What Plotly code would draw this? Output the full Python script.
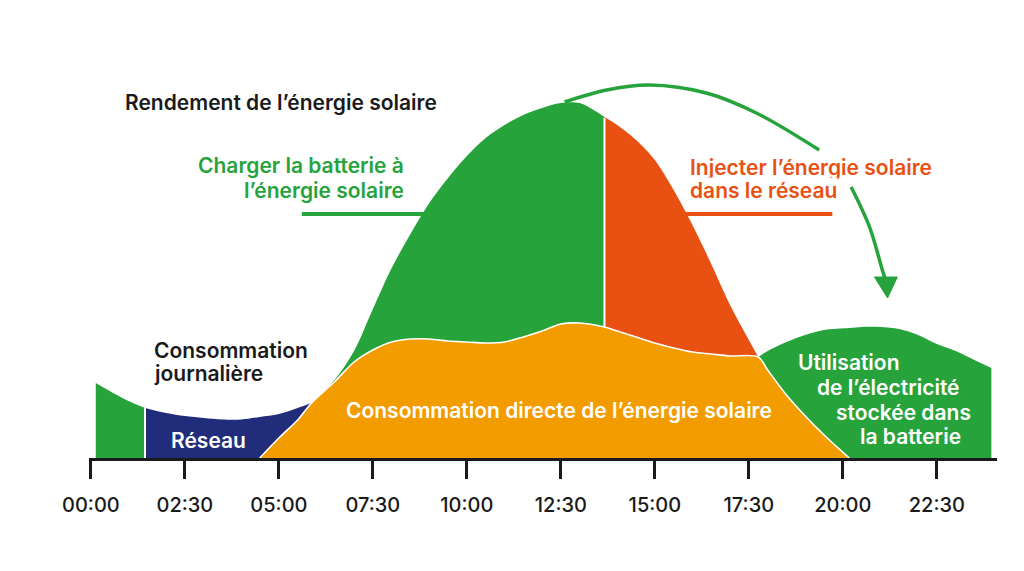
import numpy as np
import plotly.graph_objects as go

# ---------------- data (hours of the day, power in arbitrary units) ----------------
heures = [0.13, 0.5, 1.0, 1.44, 2.0, 2.5, 3.0, 3.5, 4.0, 4.49, 5.0, 5.5, 5.87, 6.5,
          7.0, 7.5, 8.0, 8.5, 9.0, 9.5, 10.0, 10.5, 11.0, 11.5, 12.0, 12.5, 13.0,
          13.66, 14.0, 14.5, 15.0, 15.5, 16.0, 16.5, 17.0, 17.75, 18.0, 18.5, 19.0,
          19.5, 20.17, 20.5, 21.0, 21.5, 22.0, 22.5, 23.0, 23.5, 23.95]
consommation = [75, 67, 57, 50, 45, 42, 40, 38.5, 38.5, 41, 44, 50, 55, 77,
                96, 108, 116, 119, 119, 117, 116, 115, 116, 121, 127, 134, 135,
                131, 127, 121, 115, 110, 106, 104, 102, 101, 107, 116, 123,
                128, 130, 131, 131, 129, 123, 114, 107, 98, 90]
production = [0, 0, 0, 0, 0, 0, 0, 0, 0, 0, 20, 38, 55, 79,
              107, 149, 190, 224, 255, 280, 302, 320, 333, 343, 350, 355, 355,
              341, 333, 318, 298, 268, 233, 194, 153, 101, 88, 63, 42,
              23, 0, 0, 0, 0, 0, 0, 0, 0, 0]

tick_vals = [0, 2.5, 5, 7.5, 10, 12.5, 15, 17.5, 20, 22.5]
tick_text = ["00:00", "02:30", "05:00", "07:30", "10:00", "12:30", "15:00",
             "17:30", "20:00", "22:30"]

# time markers of the phases
t_debut, t_reseau, t_prod, t_croise1, t_injection, t_croise2, t_fin_prod, t_fin = \
    0.13, 1.44, 4.49, 5.87, 13.66, 17.75, 20.17, 23.95

# curved arrow (battery energy shifted to the evening); gap where it passes behind the label
fleche_x = [12.60, 13.72, 14.86, 16.37, 17.70, 19.37, None, 20.22, 20.71, 21.05, 21.15]
fleche_y = [356, 368, 373, 365, 345, 308, None, 271, 231, 188, 176]
pointe_x = [20.84, 21.45, 21.19, 20.84]
pointe_y = [181, 181, 160, 181]

# ---------------- colours ----------------
VERT = "#27a33c"
BLEU = "#212c7b"
ORANGE = "#f39c00"
ROUGE = "#e85112"
NOIR = "#1a1a1a"
FONT = "Inter"
FS = 21

h = np.array(heures)
C = np.array(consommation, dtype=float)
P = np.array(production, dtype=float)
directe = np.minimum(C, P)


def idx(t):
    return int(np.argmin(np.abs(h - t)))


def seg(t0, t1):
    return slice(idx(t0), idx(t1) + 1)


fig = go.Figure()


def area(sl, y, color, line_color=None, lw=0):
    fig.add_trace(go.Scatter(
        x=h[sl], y=y[sl], mode="lines", fill="tozeroy", fillcolor=color,
        line=dict(color=line_color or color, width=lw, shape="spline", smoothing=0.9),
        hoverinfo="skip", showlegend=False))


# battery use at night
area(seg(t_debut, t_reseau), C, VERT)
# grid
area(seg(t_reseau, t_croise1), C, BLEU)
# battery use in the evening
area(seg(t_croise2, t_fin), C, VERT)
# charging the battery
area(seg(t_croise1, t_injection), P, VERT)
# injection into the grid
area(seg(t_injection, t_croise2), P, ROUGE)
# direct consumption
area(seg(t_prod, t_fin_prod), directe, ORANGE, "white", 1.6)

# white separators
i1 = idx(t_reseau)
i2 = idx(t_injection)
fig.add_trace(go.Scatter(x=[h[i1], h[i1]], y=[0, C[i1]], mode="lines",
                         line=dict(color="white", width=2), hoverinfo="skip", showlegend=False))
fig.add_trace(go.Scatter(x=[h[i2], h[i2]], y=[C[i2], P[i2] - 1], mode="lines",
                         line=dict(color="white", width=2), hoverinfo="skip", showlegend=False))

# label leader lines
fig.add_trace(go.Scatter(x=[5.61, 9.0], y=[244, 244], mode="lines",
                         line=dict(color=VERT, width=4), hoverinfo="skip", showlegend=False))
fig.add_trace(go.Scatter(x=[15.5, 19.72], y=[244, 244], mode="lines",
                         line=dict(color=ROUGE, width=4), hoverinfo="skip", showlegend=False))

# curved arrow
fig.add_trace(go.Scatter(x=fleche_x, y=fleche_y, mode="lines", connectgaps=False,
                         line=dict(color=VERT, width=3.5, shape="spline", smoothing=1),
                         hoverinfo="skip", showlegend=False))
fig.add_trace(go.Scatter(x=pointe_x, y=pointe_y, mode="lines", fill="toself",
                         fillcolor=VERT, line=dict(color=VERT, width=1),
                         hoverinfo="skip", showlegend=False))

# ---------------- texts ----------------
def txt(x, y, text, color, anchor="left", size=FS, bg=None):
    fig.add_annotation(x=x, y=y, xref="x", yref="y", text=text, showarrow=False,
                       xanchor=anchor, yanchor="middle",
                       font=dict(family=FONT, size=size, color=color, weight=600),
                       bgcolor=bg, borderpad=0)


txt(0.877, 356, "Rendement de l’énergie solaire", NOIR)
txt(8.35, 293, "Charger la batterie à", VERT, "right")
txt(8.35, 268, "l’énergie solaire", VERT, "right")
txt(15.92, 291, "Injecter l’énergie solaire", ROUGE, bg="white")
txt(15.92, 268, "dans le réseau", ROUGE, bg="white")
txt(1.65, 108, "Consommation", NOIR)
txt(1.65, 85, "journalière", NOIR)
txt(3.14, 18, "Réseau", "white", "center")
txt(12.44, 48, "Consommation directe de l’énergie solaire", "white", "center")
txt(18.79, 96, "Utilisation", "white")
txt(19.29, 71, "de l’électricité", "white")
txt(19.78, 46, "stockée dans", "white")
txt(20.44, 22, "la batterie", "white")

fig.update_layout(
    width=1024, height=571,
    margin=dict(l=89, r=27, t=58, b=113),
    paper_bgcolor="white", plot_bgcolor="white",
    xaxis=dict(range=[-0.05, 24.1], tickvals=tick_vals, ticktext=tick_text,
               showgrid=False, zeroline=False, showline=True, linecolor=NOIR,
               linewidth=3, ticks="outside", ticklen=18, tickwidth=3, tickcolor=NOIR,
               ticklabelstandoff=9,
               tickfont=dict(family=FONT, size=20, color=NOIR, weight=500),
               fixedrange=True),
    yaxis=dict(range=[0, 400], visible=False, fixedrange=True),
)

fig.write_html("out.html")
